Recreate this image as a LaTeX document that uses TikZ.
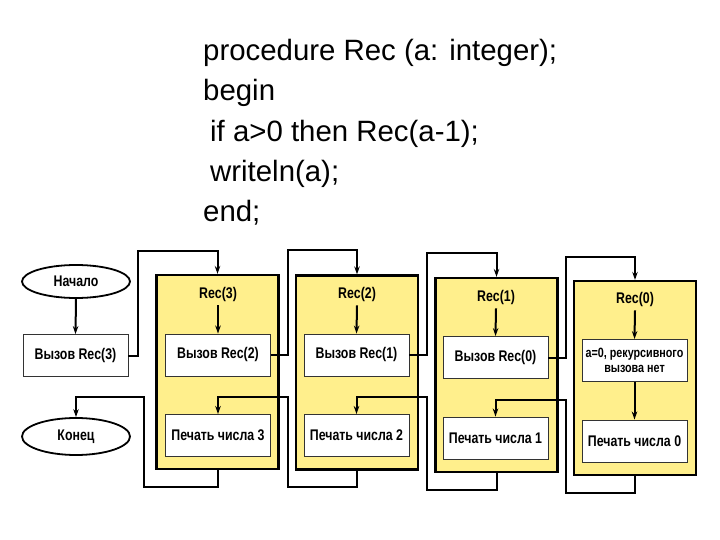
\documentclass[tikz,border=0pt]{standalone}
\usepackage{fontspec}
\setmainfont{Liberation Sans}
\newfontfamily\boxfont{Liberation Sans}[FakeStretch=0.8]
\usetikzlibrary{shapes.geometric, arrows.meta}
\newcommand{\labelfont}{\boxfont\bfseries\fontsize{15.5}{16}\selectfont}
\definecolor{recyellow}{RGB}{255,239,140}
\tikzset{
frame/.style={draw, line width=2.2bp, fill=recyellow, minimum width=122bp,
  minimum height=194bp, inner sep=0},
callbox/.style={draw=black!80, line width=0.9bp, fill=white, minimum width=105bp,
  minimum height=42bp, inner sep=1bp, align=center, font=\labelfont},
endpoint/.style={ellipse, draw, line width=1.8bp, fill=white, minimum width=108bp,
  inner sep=0, font=\labelfont},
reclabel/.style={inner sep=3bp, font=\labelfont},
link/.style={line width=2bp},
arr/.style={-{Stealth[length=8bp,width=5.5bp]}}
}
\begin{document}
\begin{tikzpicture}[x=1bp, y=-1bp]
  \useasboundingbox (0,0) rectangle (720,540);
  \node[anchor=north west, inner sep=0, align=left,
    font=\fontsize{29.5}{40.5}\selectfont] (code) at (203,39)
    {procedure Rec (a: integer);\\ begin\\ \hspace*{7bp}if a>0 then Rec(a-1);\\
     \hspace*{7bp}writeln(a);\\ end;};
  \node[endpoint, minimum height=33bp] (start) at (76,281.5) {Начало};
  \node[callbox] (call3) at (75.5,355.5) {Вызов Rec(3)};
  \node[endpoint, minimum height=37bp] (end) at (76,436.5) {Конец};
  \node[frame] (f1) at (217.5,372) {};
  \node[frame] (f2) at (357,372.5) {};
  \node[frame] (f3) at (496.5,375) {};
  \node[frame] (f4) at (635,378) {};
  \node[reclabel] (r3) at (218,295) {Rec(3)};
  \node[reclabel] (r2) at (357,295) {Rec(2)};
  \node[reclabel] (r1) at (496,298) {Rec(1)};
  \node[reclabel] (r0) at (635,300) {Rec(0)};
  \node[callbox] (call2) at (218,355) {Вызов Rec(2)};
  \node[callbox] (call1) at (356.5,355) {Вызов Rec(1)};
  \node[callbox] (call0) at (495.5,357.5) {Вызов Rec(0)};
  \node[callbox, font=\boxfont\bfseries\fontsize{13.5}{14.5}\selectfont] (base)
    at (634.5,360.5) {a=0, рекурсивного\\вызова нет};
  \node[callbox] (print3) at (218,435.5) {Печать числа 3};
  \node[callbox] (print2) at (356.5,435.5) {Печать числа 2};
  \node[callbox] (print1) at (495.5,438) {Печать числа 1};
  \node[callbox] (print0) at (634.5,441) {Печать числа 0};
  \coordinate (k1) at (138,251);
  \coordinate (k2) at (288,250);
  \coordinate (k3) at (427,253);
  \coordinate (k4) at (566,257);
  \coordinate (b1) at (144,487);
  \coordinate (j1) at (144,397);
  \coordinate (b2) at (288,487);
  \coordinate (j2) at (288,397);
  \coordinate (b3) at (427,490);
  \coordinate (j3) at (427,397);
  \coordinate (b4) at (566,493);
  \coordinate (j4) at (566,400);
  \draw[link, arr] (start.south) -- (call3.north);
  \draw[link, arr] (call3.east) -| (k1) -| (f1.north);
  \draw[link, arr] (call2.east) -| (k2) -| (f2.north);
  \draw[link, arr] (call1.east) -| (k3) -| (f3.north);
  \draw[link, arr] (call0.east) -| (k4) -| (f4.north);
  \draw[link, arr] (r3.south) -- (call2.north);
  \draw[link, arr] (r2.south) -- (call1.north);
  \draw[link, arr] (r1.south) -- (call0.north);
  \draw[link, arr] (r0.south) -- (base.north);
  \draw[link, arr] (base.south) -- (print0.north);
  \draw[link, arr] (f4.south) |- (b4) -- (j4) -| (print1.north);
  \draw[link, arr] (f3.south) |- (b3) -- (j3) -| (print2.north);
  \draw[link, arr] (f2.south) |- (b2) -- (j2) -| (print3.north);
  \draw[link, arr] (f1.south) |- (b1) -- (j1) -| (end.north);
\end{tikzpicture}
\end{document}
